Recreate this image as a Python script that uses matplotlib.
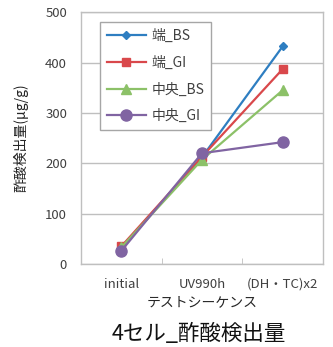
import matplotlib.pyplot as plt

plt.rcParams['font.family'] = ['Noto Sans CJK JP', 'DejaVu Sans']

categories = ['initial', 'UV990h', '(DH・TC)x2']
series_names = ['端_BS', '端_GI', '中央_BS', '中央_GI']
edge_bs = [33, 212, 432]
edge_gi = [35, 213, 387]
center_bs = [33, 207, 345]
center_gi = [26, 220, 242]

colors = ['#2E7EC1', '#D9484B', '#8CC168', '#8064A2']
markers = ['D', 's', '^', 'o']
msizes = [4, 6, 6.5, 8]

fig = plt.figure(figsize=(3.33, 3.47), dpi=100)
ax = fig.add_axes([0.243, 0.239, 0.727, 0.726])

x = list(range(len(categories)))
for vals, name, c, m, ms in zip([edge_bs, edge_gi, center_bs, center_gi],
                                series_names, colors, markers, msizes):
    ax.plot(x, vals, color=c, marker=m, markersize=ms, linewidth=1.6,
            label=name, zorder=3)

ax.set_xlim(-0.5, 2.5)
ax.set_ylim(0, 500)
ax.set_yticks([0, 100, 200, 300, 400, 500])
ax.set_xticks(x)
ax.set_xticklabels(categories)
ax.set_xticks([0.5, 1.5], minor=True)
ax.tick_params(axis='x', which='major', length=0, pad=10)
ax.tick_params(axis='x', which='minor', length=4, color='#BFBFBF', direction='in')
ax.tick_params(axis='y', length=0, pad=10)
ax.tick_params(labelsize=9.5, labelcolor='#404040')

ax.grid(axis='y', color='#BFBFBF', linewidth=1)
ax.set_axisbelow(True)
for s in ax.spines.values():
    s.set_color('#BFBFBF')
    s.set_linewidth(1)

ax.set_ylabel('酢酸検出量(μg/g)', fontsize=10, color='#262626', labelpad=12)
ax.set_xlabel('テストシーケンス', fontsize=10, color='#262626', labelpad=3)

leg = ax.legend(loc='upper left', bbox_to_anchor=(0.078, 0.96), borderaxespad=0,
                fontsize=10, labelspacing=0.9, handlelength=2.8,
                fancybox=False, framealpha=1, edgecolor='#A6A6A6',
                borderpad=0.5, handletextpad=0.4)
leg.get_frame().set_linewidth(1)
for t in leg.get_texts():
    t.set_color('#404040')

fig.text(0.597, 0.038, '4セル_酢酸検出量', fontsize=15.5, ha='center', va='center',
         color='#111111')

fig.savefig('out.png', dpi=100)
